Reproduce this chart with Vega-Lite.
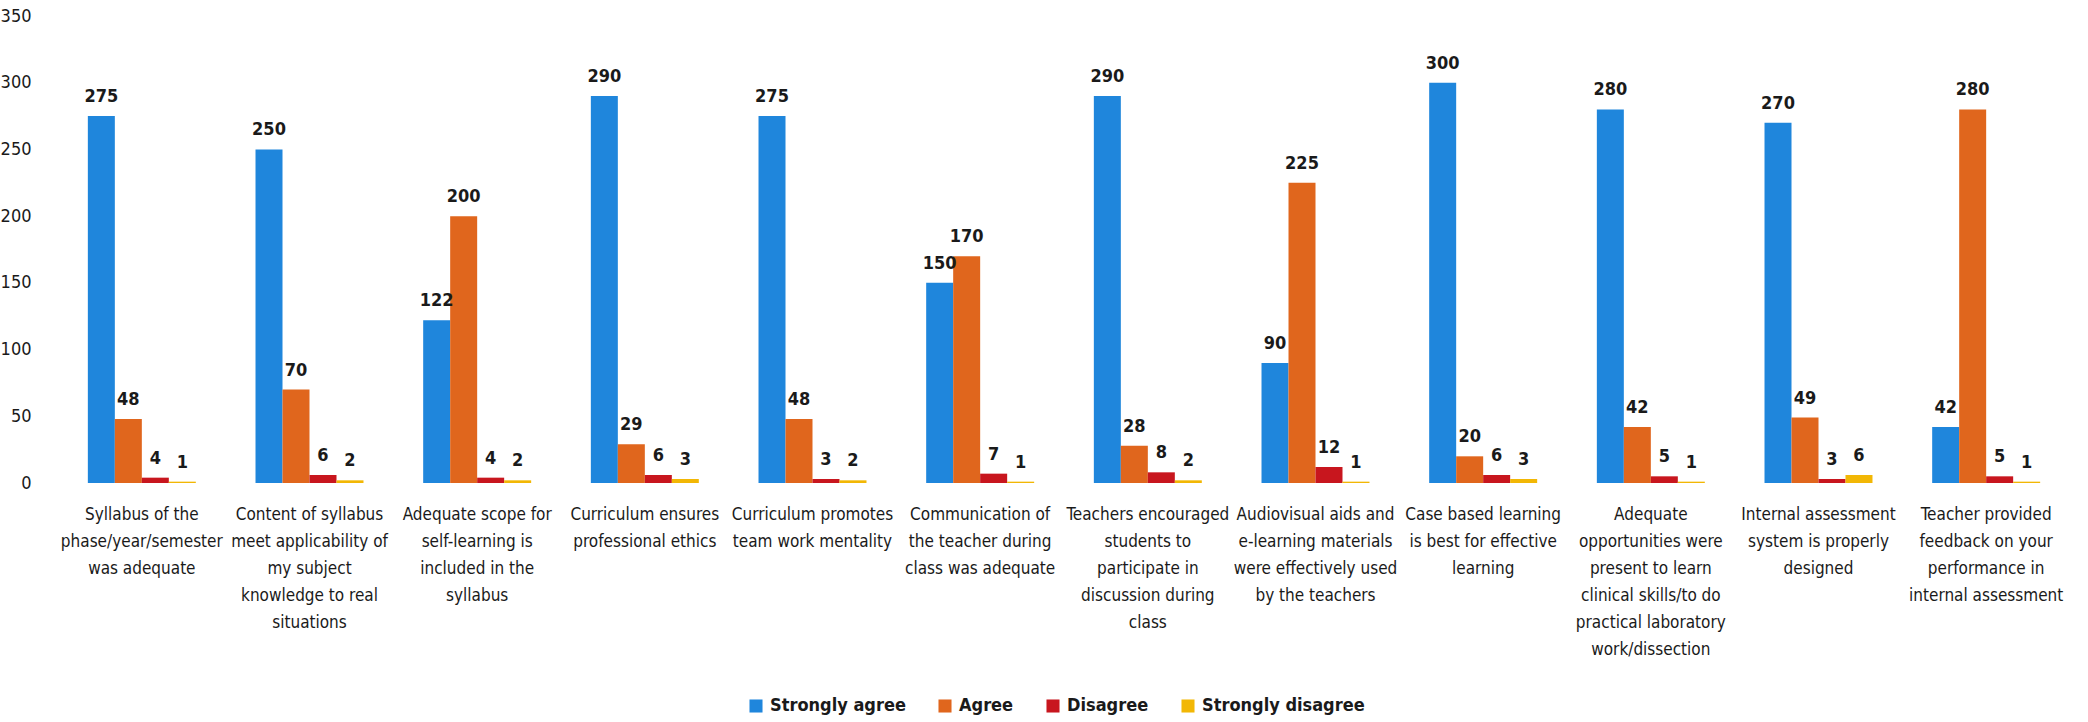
{
  "$schema": "https://vega.github.io/schema/vega-lite/v6.json",
  "width": 2012,
  "height": 467,
  "autosize": "none",
  "padding": {"left": 58, "top": 16, "right": 18, "bottom": 239},
  "background": "white",
  "config": {"view": {"stroke": null}},
  "data": {
    "values": [
      {"q": "Syllabus of the\nphase/year/semester\nwas adequate", "o": 1, "Strongly agree": 275, "Agree": 48, "Disagree": 4, "Strongly disagree": 1},
      {"q": "Content of syllabus\nmeet applicability of\nmy subject\nknowledge to real\nsituations", "o": 2, "Strongly agree": 250, "Agree": 70, "Disagree": 6, "Strongly disagree": 2},
      {"q": "Adequate scope for\nself-learning is\nincluded in the\nsyllabus", "o": 3, "Strongly agree": 122, "Agree": 200, "Disagree": 4, "Strongly disagree": 2},
      {"q": "Curriculum ensures\nprofessional ethics", "o": 4, "Strongly agree": 290, "Agree": 29, "Disagree": 6, "Strongly disagree": 3},
      {"q": "Curriculum promotes\nteam work mentality", "o": 5, "Strongly agree": 275, "Agree": 48, "Disagree": 3, "Strongly disagree": 2},
      {"q": "Communication of\nthe teacher during\nclass was adequate", "o": 6, "Strongly agree": 150, "Agree": 170, "Disagree": 7, "Strongly disagree": 1},
      {"q": "Teachers encouraged\nstudents to\nparticipate in\ndiscussion during\nclass", "o": 7, "Strongly agree": 290, "Agree": 28, "Disagree": 8, "Strongly disagree": 2},
      {"q": "Audiovisual aids and\ne-learning materials\nwere effectively used\nby the teachers", "o": 8, "Strongly agree": 90, "Agree": 225, "Disagree": 12, "Strongly disagree": 1},
      {"q": "Case based learning\nis best for effective\nlearning", "o": 9, "Strongly agree": 300, "Agree": 20, "Disagree": 6, "Strongly disagree": 3},
      {"q": "Adequate\nopportunities were\npresent to learn\nclinical skills/to do\npractical laboratory\nwork/dissection", "o": 10, "Strongly agree": 280, "Agree": 42, "Disagree": 5, "Strongly disagree": 1},
      {"q": "Internal assessment\nsystem is properly\ndesigned", "o": 11, "Strongly agree": 270, "Agree": 49, "Disagree": 3, "Strongly disagree": 6},
      {"q": "Teacher provided\nfeedback on your\nperformance in\ninternal assessment", "o": 12, "Strongly agree": 42, "Agree": 280, "Disagree": 5, "Strongly disagree": 1}
    ]
  },
  "transform": [
    {"fold": ["Strongly agree", "Agree", "Disagree", "Strongly disagree"], "as": ["response", "count"]}
  ],
  "encoding": {
    "x": {
      "field": "q",
      "type": "nominal",
      "sort": {"field": "o", "op": "min"},
      "scale": {"paddingInner": 0.356, "paddingOuter": 0.178},
      "axis": {
        "title": null,
        "labelAngle": 0,
        "labelExpr": "split(datum.label, '\\n')",
        "labelFont": "Liberation Sans Narrow, DejaVu Sans Condensed, Liberation Sans, sans-serif",
        "labelFontSize": 17,
        "labelLineHeight": 27,
        "labelColor": "#1a1a1a",
        "labelPadding": 23,
        "ticks": false,
        "domain": false,
        "grid": false,
        "labelLimit": 300
      }
    },
    "xOffset": {
      "field": "response",
      "type": "nominal",
      "sort": ["Strongly agree", "Agree", "Disagree", "Strongly disagree"],
      "scale": {"paddingInner": 0, "paddingOuter": 0}
    },
    "y": {
      "field": "count",
      "type": "quantitative",
      "scale": {"domain": [0, 350], "nice": false},
      "axis": {
        "title": null,
        "values": [0, 50, 100, 150, 200, 250, 300, 350],
        "labelFont": "Liberation Sans Narrow, DejaVu Sans Condensed, Liberation Sans, sans-serif",
        "labelFontSize": 18,
        "labelColor": "#1a1a1a",
        "ticks": false,
        "tickSize": 0,
        "labelPadding": 27,
        "domain": false,
        "grid": false
      }
    }
  },
  "layer": [
    {
      "mark": {"type": "bar"},
      "encoding": {
        "color": {
          "field": "response",
          "type": "nominal",
          "sort": ["Strongly agree", "Agree", "Disagree", "Strongly disagree"],
          "scale": {
            "domain": ["Strongly agree", "Agree", "Disagree", "Strongly disagree"],
            "range": ["#1f86dc", "#e0661d", "#c8161e", "#f2b705"]
          },
          "legend": {
            "title": null,
            "orient": "none",
            "direction": "horizontal",
            "legendX": 689,
            "legendY": 681,
            "symbolType": "square",
            "symbolSize": 170,
            "symbolStrokeWidth": 0,
            "labelFont": "Liberation Sans Narrow, DejaVu Sans Condensed, Liberation Sans, sans-serif",
            "labelFontSize": 18,
            "labelFontWeight": "bold",
            "labelColor": "#1a1a1a",
            "labelOffset": 5,
            "columnPadding": 30,
            "labelLimit": 300
          }
        }
      }
    },
    {
      "mark": {
        "type": "text",
        "baseline": "alphabetic",
        "dy": -14,
        "font": "Liberation Sans Narrow, DejaVu Sans Condensed, Liberation Sans, sans-serif",
        "fontSize": 18,
        "fontWeight": "bold",
        "color": "#1a1a1a"
      },
      "encoding": {
        "text": {"field": "count", "type": "quantitative"}
      }
    }
  ]
}
